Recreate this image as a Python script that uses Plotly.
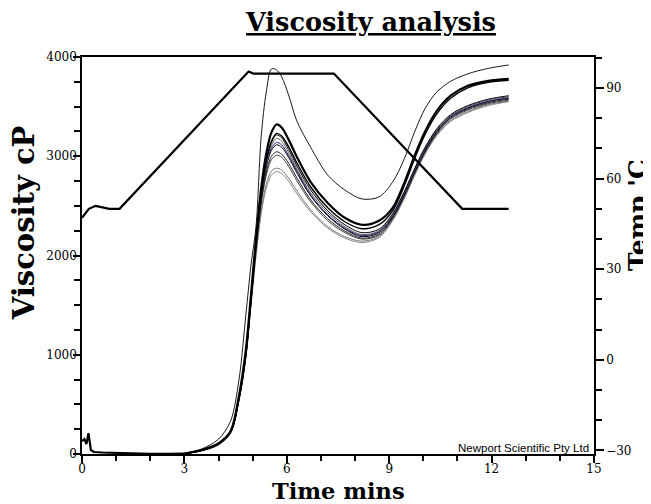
import plotly.graph_objects as go

# ---------------- data ----------------
# shared start-up segment (all runs overlap here), minutes / cP
start_t = [0, 0.07, 0.13, 0.19, 0.26, 0.35, 0.6, 1.0, 1.5, 2.0, 2.5, 3.0]
start_visc = [130, 150, 100, 210, 40, 20, 15, 10, 5, 2, 2, 5]

# common time grid for the individual runs (minutes)
run_t = [3.0, 3.5, 4.0, 4.35, 4.6, 4.8, 4.95, 5.1, 5.25, 5.4, 5.55, 5.7, 5.85,
         6.05, 6.3, 6.7, 7.2, 7.7, 8.2, 8.7, 9.1, 9.45, 9.75, 10.05, 10.4,
         10.8, 11.3, 11.9, 12.5]

run_a = [5, 50, 150, 330, 750, 1400, 1900, 2300, 3200, 3650, 3880, 3870, 3800,
         3620, 3350, 3090, 2810, 2660, 2570, 2590, 2740, 2980, 3250, 3480,
         3650, 3755, 3830, 3885, 3920]
run_b = [5, 40, 110, 230, 590, 1050, 1600, 2180, 2680, 3030, 3240, 3320, 3290,
         3170, 2990, 2740, 2530, 2380, 2310, 2350, 2480, 2740, 3010, 3250,
         3460, 3610, 3710, 3760, 3780]
run_c = [5, 38, 105, 225, 575, 1020, 1570, 2140, 2630, 2960, 3150, 3230, 3205,
         3100, 2930, 2690, 2480, 2340, 2270, 2310, 2450, 2710, 2980, 3220,
         3430, 3585, 3690, 3745, 3765]
run_d = [5, 36, 102, 222, 565, 1010, 1560, 2120, 2610, 2950, 3140, 3215, 3185,
         3070, 2900, 2660, 2450, 2310, 2230, 2265, 2420, 2650, 2880, 3090,
         3280, 3420, 3510, 3575, 3610]
run_e = [5, 35, 100, 220, 560, 1000, 1550, 2110, 2600, 2930, 3110, 3180, 3150,
         3040, 2870, 2630, 2430, 2290, 2210, 2250, 2410, 2640, 2870, 3080,
         3270, 3410, 3500, 3565, 3600]
run_f = [5, 35, 100, 218, 555, 995, 1540, 2100, 2590, 2910, 3080, 3140, 3115,
         3010, 2850, 2610, 2410, 2275, 2200, 2240, 2400, 2630, 2860, 3070,
         3260, 3400, 3490, 3555, 3590]
run_g = [5, 34, 98, 216, 552, 990, 1535, 2090, 2570, 2890, 3060, 3115, 3090,
         2990, 2830, 2600, 2400, 2265, 2190, 2230, 2390, 2620, 2850, 3060,
         3250, 3395, 3485, 3550, 3585]
run_h = [5, 33, 96, 214, 548, 985, 1525, 2070, 2540, 2840, 3000, 3045, 3020,
         2930, 2780, 2560, 2370, 2245, 2175, 2215, 2380, 2610, 2840, 3050,
         3240, 3385, 3475, 3540, 3575]
run_i = [5, 33, 95, 212, 545, 980, 1520, 2060, 2520, 2810, 2965, 3010, 2990,
         2900, 2750, 2540, 2350, 2230, 2165, 2205, 2370, 2600, 2830, 3040,
         3230, 3375, 3465, 3530, 3565]
run_j = [5, 32, 92, 208, 540, 970, 1500, 2020, 2450, 2720, 2850, 2880, 2860,
         2780, 2650, 2460, 2290, 2190, 2145, 2190, 2360, 2590, 2820, 3030,
         3220, 3360, 3450, 3520, 3555]
run_k = [5, 32, 90, 205, 535, 965, 1490, 2000, 2420, 2680, 2810, 2845, 2825,
         2750, 2620, 2440, 2275, 2175, 2130, 2180, 2350, 2580, 2810, 3020,
         3210, 3350, 3440, 3510, 3550]

# temperature profile ('C)
temp_t = [0, 0.2, 0.4, 0.8, 1.1, 4.88, 5.02, 7.38, 11.14, 12.5]
temp_v = [47, 50, 51, 50, 50, 95.5, 94.8, 94.8, 50, 50]

x_ticks = [0, 3, 6, 9, 12, 15]
y_ticks = [0, 1000, 2000, 3000, 4000]
y2_ticks = [-30, 0, 30, 60, 90]

# ---------------- figure ----------------
fig = go.Figure()

runs = [
    (run_k, "#8a8a8a", 1.0),
    (run_j, "#777777", 1.0),
    (run_i, "#444444", 1.0),
    (run_h, "#222222", 1.0),
    (run_g, "#000000", 1.0),
    (run_f, "#1c1c70", 1.0),
    (run_e, "#555555", 1.0),
    (run_d, "#000000", 1.0),
    (run_c, "#000000", 1.4),
    (run_b, "#000000", 2.2),
    (run_a, "#000000", 0.9),
]
for vals, col, w in runs:
    fig.add_trace(go.Scatter(x=run_t, y=vals, mode="lines",
                             line=dict(color=col, width=w, shape="spline", smoothing=0.9),
                             showlegend=False, hoverinfo="skip"))

fig.add_trace(go.Scatter(x=start_t, y=start_visc, mode="lines",
                         line=dict(color="black", width=2.2),
                         showlegend=False, hoverinfo="skip"))

fig.add_trace(go.Scatter(x=temp_t, y=temp_v, mode="lines", yaxis="y2",
                         line=dict(color="black", width=2.2),
                         showlegend=False, hoverinfo="skip"))

tickfont = dict(family="DejaVu Serif", size=12, color="black")
serif_b = "DejaVu Serif"

# the page body adds an 8px offset, so the figure is 8px smaller and margins shifted
fig.update_layout(
    width=643, height=496,
    margin=dict(l=74, r=57, t=49, b=50),
    paper_bgcolor="white", plot_bgcolor="white",
    xaxis=dict(range=[0, 15], tickvals=x_ticks, ticks="outside", ticklen=7,
               tickcolor="black", tickwidth=1.5, showgrid=False, zeroline=False,
               showline=True, linecolor="black", linewidth=1.5, mirror=True,
               tickfont=tickfont, ticklabelstandoff=-4,
               minor=dict(dtick=1, ticks="outside", ticklen=5, tickcolor="black",
                          tickwidth=1.5, showgrid=False)),
    yaxis=dict(range=[0, 4000], tickvals=y_ticks, ticks="outside", ticklen=7,
               tickcolor="black", tickwidth=1.5, showgrid=False, zeroline=False,
               showline=True, linecolor="black", linewidth=1.5,
               tickfont=tickfont, ticklabelstandoff=-6,
               minor=dict(dtick=250, ticks="outside", ticklen=6, tickcolor="black",
                          tickwidth=1.5, showgrid=False)),
    yaxis2=dict(range=[-31.2, 100.3], tickvals=y2_ticks, overlaying="y", side="right",
                ticks="outside", ticklen=8, tickcolor="black", tickwidth=1.5,
                showgrid=False, zeroline=False, showline=True, linecolor="black",
                linewidth=1.5, tickfont=tickfont,
                minor=dict(tick0=-30, dtick=10, ticks="outside", ticklen=6,
                           tickcolor="black", tickwidth=1.5, showgrid=False)),
    annotations=[
        dict(text="<b><u>Viscosity analysis</u></b>", xref="paper", yref="paper",
             x=0.5625, y=1.088, xanchor="center", yanchor="middle", showarrow=False,
             font=dict(family=serif_b, size=25.5, color="black")),
        dict(text="<b>Viscosity cP</b>", xref="paper", yref="paper",
             x=-0.1133, y=0.584, xanchor="center", yanchor="middle", textangle=-90,
             showarrow=False, font=dict(family=serif_b, size=29, color="black")),
        dict(text="<b>Temp 'C</b>", xref="paper", yref="paper",
             x=1.084, y=0.602, xanchor="center", yanchor="middle", textangle=-90,
             showarrow=False, font=dict(family=serif_b, size=25, color="black")),
        dict(text="<b>Time mins</b>", xref="paper", yref="paper",
             x=0.5, y=-0.093, xanchor="center", yanchor="middle",
             showarrow=False, font=dict(family=serif_b, size=22.5, color="black")),
        dict(text="Newport Scientific Pty Ltd", xref="paper", yref="paper",
             x=0.994, y=0, xanchor="right", yanchor="bottom", yshift=-2,
             showarrow=False, font=dict(family="Liberation Sans", size=11.5, color="black")),
    ],
)

fig.write_html("out.html")
